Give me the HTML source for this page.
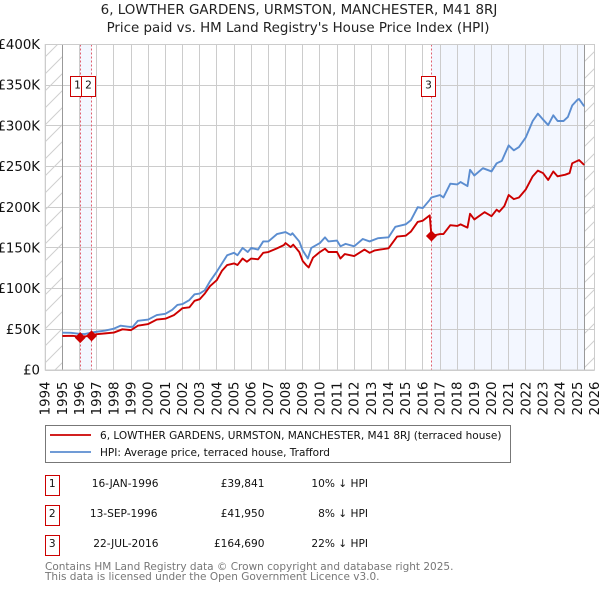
<!DOCTYPE html>
<html>
<head>
<meta charset="utf-8">
<title>6, Lowther Gardens price paid vs HPI</title>
<style>
html,body{margin:0;padding:0;background:#fff;}
svg{display:block;font-family:"DejaVu Sans","Liberation Sans",sans-serif;}
text{fill:#111;}
</style>
</head>
<body>
<svg id="chart" xmlns="http://www.w3.org/2000/svg" width="600" height="590" viewBox="0 0 600 590">
<defs>
<pattern id="hatch" width="17" height="17" patternUnits="userSpaceOnUse">
<path d="M-1 18 L18 -1" stroke="#cfcfcf" stroke-width="1" fill="none"/>
<path d="M-1 1 L1 -1 M16 18 L18 16" stroke="#cfcfcf" stroke-width="1" fill="none"/>
</pattern>
</defs>
<text x="299" y="14" text-anchor="middle" font-size="13.45" style="fill:#222">6, LOWTHER GARDENS, URMSTON, MANCHESTER, M41 8RJ</text>
<text x="298" y="32" text-anchor="middle" font-size="13.4" style="fill:#222">Price paid vs. HM Land Registry's House Price Index (HPI)</text>
<g id="plot"></g>

<rect x="45.5" y="425.5" width="465" height="37" fill="#fff" stroke="#777"/>
<line x1="50" y1="435" x2="91" y2="435" stroke="#cc0000" stroke-width="1.8"/>
<line x1="50" y1="452" x2="91" y2="452" stroke="#5b8dd0" stroke-width="1.8"/>
<text x="100" y="439" font-size="10.52">6, LOWTHER GARDENS, URMSTON, MANCHESTER, M41 8RJ (terraced house)</text>
<text x="100" y="456" font-size="10.52">HPI: Average price, terraced house, Trafford</text>

<g>
<rect x="45.5" y="475.5" width="14" height="20" fill="#fff" stroke="#cc0000"/>
<text x="52.3" y="487" text-anchor="middle" font-size="10.6">1</text>
<text x="158.5" y="487" text-anchor="end" font-size="10.6">16-JAN-1996</text>
<text x="264.5" y="487" text-anchor="end" font-size="10.6">£39,841</text>
<text x="368" y="487" text-anchor="end" font-size="10.6">10% ↓ HPI</text>
</g>
<g>
<rect x="45.5" y="505.5" width="14" height="20" fill="#fff" stroke="#cc0000"/>
<text x="52.3" y="517" text-anchor="middle" font-size="10.6">2</text>
<text x="157.5" y="517" text-anchor="end" font-size="10.6">13-SEP-1996</text>
<text x="264.5" y="517" text-anchor="end" font-size="10.6">£41,950</text>
<text x="368" y="517" text-anchor="end" font-size="10.6">8% ↓ HPI</text>
</g>
<g>
<rect x="45.5" y="535.5" width="14" height="20" fill="#fff" stroke="#cc0000"/>
<text x="52.3" y="547" text-anchor="middle" font-size="10.6">3</text>
<text x="158.5" y="547" text-anchor="end" font-size="10.6">22-JUL-2016</text>
<text x="264.5" y="547" text-anchor="end" font-size="10.6">£164,690</text>
<text x="368" y="547" text-anchor="end" font-size="10.6">22% ↓ HPI</text>
</g>
<text x="45" y="570" font-size="10.5" style="fill:#777">Contains HM Land Registry data © Crown copyright and database right 2025.</text>
<text x="45" y="580" font-size="10.5" style="fill:#777">This data is licensed under the Open Government Licence v3.0.</text>
</svg>
<script>
var yTickValues = [0, 50, 100, 150, 200, 250, 300, 350, 400];
var yTickLabels = ["£0", "£50K", "£100K", "£150K", "£200K", "£250K", "£300K", "£350K", "£400K"];
var xTickYears = [1994, 1995, 1996, 1997, 1998, 1999, 2000, 2001, 2002, 2003, 2004, 2005, 2006, 2007, 2008, 2009, 2010, 2011, 2012, 2013, 2014, 2015, 2016, 2017, 2018, 2019, 2020, 2021, 2022, 2023, 2024, 2025, 2026];
var hpiDates = [
  1995, 1995.5, 1996, 1996.3, 1996.7, 1997, 1997.5, 1998, 1998.4, 1998.9,
  1999.1, 1999.4, 2000, 2000.5, 2001, 2001.4, 2001.7, 2002, 2002.4, 2002.7,
  2003, 2003.3, 2003.6, 2004, 2004.3, 2004.6, 2005, 2005.2, 2005.5, 2005.8,
  2006, 2006.4, 2006.7, 2007, 2007.5, 2008, 2008.3, 2008.4, 2008.8, 2009,
  2009.3, 2009.5, 2010, 2010.3, 2010.5, 2011, 2011.2, 2011.5, 2012, 2012.5,
  2012.9, 2013.4, 2014, 2014.4, 2015, 2015.3, 2015.7, 2016, 2016.4, 2016.5,
  2017, 2017.2, 2017.6, 2018, 2018.2, 2018.6, 2018.75, 2019, 2019.5, 2020,
  2020.3, 2020.6, 2021, 2021.3, 2021.6, 2022, 2022.4, 2022.7, 2022.95, 2023.3,
  2023.6, 2023.85, 2024.2, 2024.45, 2024.7, 2025, 2025.1, 2025.4
];
var hpiValues = [
  45.9, 45.7, 44.5, 44.2, 46, 47, 48.5, 50.8, 54.5, 53,
  53, 60.5, 62, 67.5, 69, 74, 80, 81, 86, 93,
  94, 98, 109, 121, 131, 141, 144, 141, 150, 145,
  150, 148, 158, 158, 167, 169.5, 166, 168, 158, 147,
  137, 150, 156, 163, 158, 159, 152, 155, 152, 161,
  158, 162, 163, 176, 179, 184, 200, 199, 209, 212,
  215, 212, 229, 228, 231, 226, 246, 239, 248, 244,
  254, 257, 276, 270, 274, 286, 306, 315, 309, 301,
  313, 306, 306, 311, 325, 332, 333, 324
];
var priceDates = [
  1995, 1995.6, 1996, 1996.4, 1996.7, 1997, 1997.5, 1998, 1998.5, 1999,
  1999.4, 2000, 2000.5, 2001, 2001.5, 2001.8, 2002, 2002.4, 2002.7, 2003,
  2003.3, 2003.6, 2004, 2004.3, 2004.6, 2005, 2005.2, 2005.5, 2005.75, 2006,
  2006.4, 2006.7, 2007, 2007.5, 2007.9, 2008, 2008.3, 2008.45, 2008.8, 2009,
  2009.2, 2009.35, 2009.6, 2010, 2010.3, 2010.5, 2011, 2011.2, 2011.45, 2012,
  2012.6, 2012.9, 2013.2, 2013.5, 2014, 2014.5, 2015, 2015.3, 2015.7, 2016,
  2016.4, 2016.5, 2017, 2017.2, 2017.6, 2018, 2018.2, 2018.6, 2018.75, 2019,
  2019.6, 2020, 2020.3, 2020.45, 2020.75, 2021, 2021.3, 2021.6, 2022, 2022.4,
  2022.7, 2023, 2023.3, 2023.6, 2023.85, 2024.3, 2024.55, 2024.7, 2025.1, 2025.4
];
var priceValues = [
  41.8, 42, 41, 41.5, 43, 44, 45, 46, 50, 49,
  54.5, 56.5, 62, 63, 67.5, 72.5, 76, 77, 85, 87,
  94, 103, 110.5, 122, 129, 131, 129, 137, 133, 137,
  136, 144, 145, 149.5, 153.5, 156, 151, 154, 145, 134,
  129, 126, 138, 145, 149, 145, 145, 137, 142.5, 140,
  148, 144, 147, 148, 149.5, 164, 165, 170, 182, 183.5,
  190, 164.7, 167, 167, 178, 177, 179, 175, 192, 185,
  194, 189, 197, 194.5, 201.5, 215, 210, 212, 222, 238,
  245, 242, 233.5, 244, 238, 240, 242, 254, 258, 252
];
var saleDates = [1996.04, 1996.7, 2016.5];
var salePrices = [39.841, 41.95, 164.69];
var saleLabels = ["1", "2", "3"];

var NS = "http://www.w3.org/2000/svg";
var plot = document.getElementById("plot");
var leftX = 45.2, rightX = 594.5, topY = 44.5, bottomY = 370;
var dataStart = 1995, dataEnd = 2025.4;
function xAt(year) { return leftX + (year - 1994) / 32 * (rightX - leftX); }
function yAt(v) { return bottomY - v / 400 * (bottomY - topY); }
function snap(p) { return Math.floor(p) + 0.5; }
function make(tag, attrs, parent) {
  var el = document.createElementNS(NS, tag);
  for (var k in attrs) el.setAttribute(k, attrs[k]);
  (parent || plot).appendChild(el);
  return el;
}
function pathFrom(dates, values) {
  var d = "";
  for (var i = 0; i < dates.length; i++) {
    d += (i ? "L" : "M") + xAt(dates[i]).toFixed(2) + " " + yAt(values[i]).toFixed(2);
  }
  return d;
}

var band1 = make("rect", {x: xAt(saleDates[0]), y: topY, width: xAt(saleDates[1]) - xAt(saleDates[0]), height: bottomY - topY, fill: "#f3f7ff"});


var band2 = make("rect", {x: xAt(saleDates[2]), y: topY, width: xAt(dataEnd) - xAt(saleDates[2]), height: bottomY - topY, fill: "#f3f7ff"});



yTickValues.forEach(function (v, i) {
  var g = make("line", {x1: leftX, x2: rightX, y1: snap(yAt(v)), y2: snap(yAt(v)), stroke: "#cccccc", "stroke-width": 1});
  
  
  var t = make("text", {x: 40, y: yAt(v) + 4.5, "text-anchor": "end", "font-size": 13.3});
  t.textContent = yTickLabels[i];
  
  
});
xTickYears.forEach(function (yr) {
  var g = make("line", {x1: snap(xAt(yr)), x2: snap(xAt(yr)), y1: topY, y2: bottomY, stroke: "#cccccc", "stroke-width": 1});
  
  
  var t = make("text", {x: 0, y: 0, "text-anchor": "end", "font-size": 13.3, transform: "translate(" + (xAt(yr) + 4.5) + ",381.5) rotate(-90)"});
  t.textContent = String(yr);
  
  
});

var hatchL = make("rect", {x: leftX, y: topY, width: xAt(dataStart) - leftX, height: bottomY - topY, fill: "url(#hatch)"});


var hatchR = make("rect", {x: xAt(dataEnd), y: topY, width: rightX - xAt(dataEnd), height: bottomY - topY, fill: "url(#hatch)"});


var edgeL = make("line", {x1: snap(xAt(dataStart)), x2: snap(xAt(dataStart)), y1: topY, y2: bottomY, stroke: "#999999", "stroke-width": 1});


var edgeR = make("line", {x1: snap(xAt(dataEnd)), x2: snap(xAt(dataEnd)), y1: topY, y2: bottomY, stroke: "#999999", "stroke-width": 1});



saleDates.forEach(function (yr) {
  var l = make("line", {x1: snap(xAt(yr)), x2: snap(xAt(yr)), y1: topY, y2: bottomY, stroke: "#e0606f", "stroke-width": 1, "stroke-dasharray": "2 2"});
  
  
});

var hpiLine = make("path", {d: pathFrom(hpiDates, hpiValues), fill: "none", stroke: "#5b8dd0", "stroke-width": 1.9, "stroke-linejoin": "round"});


var priceLine = make("path", {d: pathFrom(priceDates, priceValues), fill: "none", stroke: "#cc0000", "stroke-width": 1.9, "stroke-linejoin": "round"});



saleDates.forEach(function (yr, i) {
  var cx = xAt(yr), cy = yAt(salePrices[i]);
  var m = make("path", {d: "M" + (cx - 5.5) + " " + cy + "L" + cx + " " + (cy - 5.5) + "L" + (cx + 5.5) + " " + cy + "L" + cx + " " + (cy + 5.5) + "Z", fill: "#cc0000"});
  
  
});
saleDates.forEach(function (yr, i) {
  var bx = Math.floor(xAt(yr)) - 9.5;
  var b = make("rect", {x: bx, y: 76.5, width: 14, height: 20, fill: "#fff", stroke: "#cc0000", "stroke-width": 1});
  
  
  var t = make("text", {x: bx + 7, y: 88.5, "text-anchor": "middle", "font-size": 10.6});
  t.textContent = saleLabels[i];
  
  
});

var frame = make("rect", {x: leftX, y: topY, width: rightX - leftX, height: bottomY - topY, fill: "none", stroke: "#cccccc", "stroke-width": 1});


</script>
</body>
</html>
